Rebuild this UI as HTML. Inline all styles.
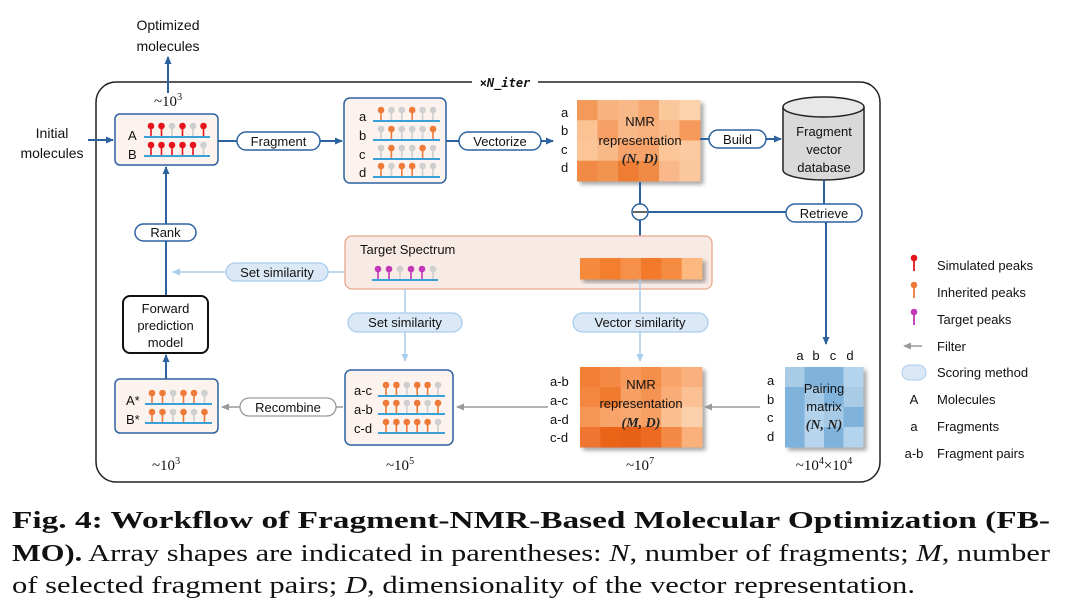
<!DOCTYPE html>
<html><head><meta charset="utf-8"><style>
html,body{margin:0;padding:0;background:#fff;}
svg{display:block;font-family:"Liberation Sans",sans-serif;}
.t{font-size:13px;fill:#111;}
.cap{font-family:"Liberation Serif",serif;font-size:24px;fill:#111;}
</style></head><body>
<svg id="s" width="1088" height="602" viewBox="0 0 1088 602" xmlns="http://www.w3.org/2000/svg">
<defs>
<marker id="ab" markerWidth="8" markerHeight="8" refX="7" refY="4" orient="auto" markerUnits="userSpaceOnUse"><path d="M0,0.5 L8,4 L0,7.5 Z" fill="#2c62a0"/></marker>
<marker id="ag" markerWidth="8" markerHeight="8" refX="7" refY="4" orient="auto" markerUnits="userSpaceOnUse"><path d="M0,0.5 L8,4 L0,7.5 Z" fill="#9a9a9a"/></marker>
<marker id="al" markerWidth="8" markerHeight="8" refX="7" refY="4" orient="auto" markerUnits="userSpaceOnUse"><path d="M0,0.5 L8,4 L0,7.5 Z" fill="#a9cdec"/></marker>
<filter id="sh" x="-10%" y="-10%" width="130%" height="130%"><feDropShadow dx="3" dy="3" stdDeviation="2" flood-color="#000" flood-opacity="0.35"/></filter>
</defs>

<!-- outer frame -->
<rect x="96" y="82" width="784" height="400" rx="20" fill="none" stroke="#222" stroke-width="1.5"/>
<rect x="472" y="74" width="66" height="16" fill="#fff"/>
<text x="505" y="87" text-anchor="middle" style="font-family:'DejaVu Sans Mono',monospace;font-size:12px;font-weight:bold;font-style:italic" fill="#111">×N_iter</text>

<!-- optimized molecules -->
<text class="t" x="168" y="30" text-anchor="middle" style="font-size:14px">Optimized</text>
<text class="t" x="168" y="51" text-anchor="middle" style="font-size:14px">molecules</text>
<line x1="168" y1="93" x2="168" y2="57" stroke="#2c62a0" stroke-width="2" marker-end="url(#ab)"/>
<text class="cap" x="168" y="106" text-anchor="middle" style="font-size:15px">~10<tspan dy="-6" font-size="10">3</tspan></text>

<!-- initial molecules -->
<text class="t" x="52" y="138" text-anchor="middle" style="font-size:14px">Initial</text>
<text class="t" x="52" y="158" text-anchor="middle" style="font-size:14px">molecules</text>
<line x1="88" y1="140" x2="113" y2="140" stroke="#2c62a0" stroke-width="2" marker-end="url(#ab)"/>

<!-- A/B box -->
<rect x="115" y="114" width="103" height="51" rx="5" fill="#fcf2ee" stroke="#2c62a0" stroke-width="1.5"/>
<text class="t" x="128" y="140">A</text><text class="t" x="128" y="159">B</text>

<!-- Fragment pill -->
<line x1="218" y1="141" x2="342" y2="141" stroke="#2c62a0" stroke-width="2" marker-end="url(#ab)"/>
<rect x="237" y="132" width="83" height="18" rx="9" fill="#fff" stroke="#2c62a0" stroke-width="1.5"/>
<text class="t" x="278.5" y="146" text-anchor="middle">Fragment</text>

<!-- fragment box -->
<rect x="344" y="98" width="102" height="85" rx="6" fill="#fcf2ee" stroke="#2c62a0" stroke-width="1.5"/>
<text class="t" x="359" y="121">a</text><text class="t" x="359" y="140">b</text><text class="t" x="359" y="159">c</text><text class="t" x="359" y="177">d</text>

<!-- Vectorize -->
<line x1="446" y1="141" x2="553" y2="141" stroke="#2c62a0" stroke-width="2" marker-end="url(#ab)"/>
<rect x="459" y="132" width="82" height="18" rx="9" fill="#fff" stroke="#2c62a0" stroke-width="1.5"/>
<text class="t" x="500" y="146" text-anchor="middle">Vectorize</text>
<text class="t" x="561" y="117">a</text><text class="t" x="561" y="135">b</text><text class="t" x="561" y="154">c</text><text class="t" x="561" y="172">d</text>

<!-- NMR top -->
<g id="h1" filter="url(#sh)"></g>
<text class="t" x="640" y="126" text-anchor="middle">NMR</text>
<text class="t" x="640" y="145" text-anchor="middle">representation</text>
<text x="640" y="163" text-anchor="middle" style="font-family:'Liberation Serif',serif;font-size:14px;font-style:italic;font-weight:bold" fill="#222">(N, D)</text>

<!-- Build -->
<line x1="700" y1="139" x2="781" y2="139" stroke="#2c62a0" stroke-width="2" marker-end="url(#ab)"/>
<rect x="709" y="130" width="57" height="18" rx="9" fill="#fff" stroke="#2c62a0" stroke-width="1.5"/>
<text class="t" x="737.5" y="144" text-anchor="middle">Build</text>

<!-- cylinder -->
<path d="M783,107 L783,170 A40.5,10 0 0 0 864,170 L864,107" fill="#d9d9d9" stroke="#222" stroke-width="1.5"/>
<ellipse cx="823.5" cy="107" rx="40.5" ry="10" fill="#e8e8e8" stroke="#222" stroke-width="1.5"/>
<text class="t" x="824" y="136" text-anchor="middle">Fragment</text>
<text class="t" x="824" y="154" text-anchor="middle">vector</text>
<text class="t" x="824" y="172" text-anchor="middle">database</text>

<!-- retrieve lines -->
<line x1="640" y1="182" x2="640" y2="258" stroke="#2c62a0" stroke-width="2"/>
<line x1="648" y1="212" x2="824" y2="212" stroke="#2c62a0" stroke-width="2"/>
<line x1="824" y1="180" x2="824" y2="204" stroke="#2c62a0" stroke-width="2"/>
<line x1="826" y1="221" x2="826" y2="344" stroke="#2c62a0" stroke-width="2" marker-end="url(#ab)"/>
<circle cx="640" cy="212" r="8" fill="#fff" stroke="#2c62a0" stroke-width="1.5"/>
<line x1="633" y1="212" x2="647" y2="212" stroke="#111" stroke-width="1.3"/>
<rect x="786" y="204" width="76" height="18" rx="9" fill="#fff" stroke="#2c62a0" stroke-width="1.5"/>
<text class="t" x="824" y="218" text-anchor="middle">Retrieve</text>

<!-- target spectrum -->
<rect x="345" y="236" width="367" height="53" rx="7" fill="#f8ebe5" stroke="#e8a88a" stroke-width="1.3"/>
<text class="t" x="360" y="254">Target Spectrum</text>
<line x1="372" y1="280" x2="438" y2="280" stroke="#3aa0d8" stroke-width="2"/>
<g id="h3" filter="url(#sh)"></g>

<!-- set similarity left -->
<line x1="345" y1="272" x2="173" y2="272" stroke="#a9cdec" stroke-width="1.5" marker-end="url(#al)"/>
<rect x="226" y="263" width="102" height="18" rx="9" fill="#dbe8f6" stroke="#a9cdec" stroke-width="1.3"/>
<text class="t" x="277" y="277" text-anchor="middle">Set similarity</text>

<!-- set similarity middle -->
<line x1="405" y1="289" x2="405" y2="361" stroke="#a9cdec" stroke-width="1.5" marker-end="url(#al)"/>
<rect x="348" y="313" width="114" height="19" rx="9.5" fill="#dbe8f6" stroke="#a9cdec" stroke-width="1.3"/>
<text class="t" x="405" y="327" text-anchor="middle">Set similarity</text>

<!-- vector similarity -->
<line x1="640" y1="279" x2="640" y2="361" stroke="#a9cdec" stroke-width="1.5" marker-end="url(#al)"/>
<rect x="573" y="313" width="135" height="19" rx="9.5" fill="#dbe8f6" stroke="#a9cdec" stroke-width="1.3"/>
<text class="t" x="640" y="327" text-anchor="middle">Vector similarity</text>

<!-- rank / forward -->
<line x1="166" y1="296" x2="166" y2="167" stroke="#2c62a0" stroke-width="2" marker-end="url(#ab)"/>
<rect x="135" y="224" width="61" height="17" rx="8.5" fill="#fff" stroke="#2c62a0" stroke-width="1.5"/>
<text class="t" x="165.5" y="237" text-anchor="middle">Rank</text>
<rect x="123" y="296" width="85" height="57" rx="7" fill="#fff" stroke="#111" stroke-width="2"/>
<text class="t" x="165.5" y="313" text-anchor="middle">Forward</text>
<text class="t" x="165.5" y="330" text-anchor="middle">prediction</text>
<text class="t" x="165.5" y="347" text-anchor="middle">model</text>
<line x1="166" y1="379" x2="166" y2="355" stroke="#2c62a0" stroke-width="2" marker-end="url(#ab)"/>

<!-- A*B* -->
<rect x="115" y="379" width="103" height="54" rx="5" fill="#fcf2ee" stroke="#2c62a0" stroke-width="1.5"/>
<text class="t" x="126" y="405">A*</text><text class="t" x="126" y="424">B*</text>

<!-- recombine -->
<line x1="343" y1="407" x2="222" y2="407" stroke="#9a9a9a" stroke-width="1.5" marker-end="url(#ag)"/>
<rect x="240" y="398" width="96" height="18" rx="9" fill="#fff" stroke="#9a9a9a" stroke-width="1.3"/>
<text class="t" x="288" y="412" text-anchor="middle">Recombine</text>

<!-- pair box -->
<rect x="345" y="370" width="108" height="75" rx="6" fill="#fcf2ee" stroke="#2c62a0" stroke-width="1.5"/>
<text class="t" x="354" y="395">a-c</text><text class="t" x="354" y="414">a-b</text><text class="t" x="354" y="433">c-d</text>

<!-- arrow NMR(M,D) to pair box -->
<line x1="548" y1="407" x2="457" y2="407" stroke="#9a9a9a" stroke-width="1.5" marker-end="url(#ag)"/>
<text class="t" x="550" y="386">a-b</text><text class="t" x="550" y="405">a-c</text><text class="t" x="550" y="424">a-d</text><text class="t" x="550" y="442">c-d</text>
<g id="h2" filter="url(#sh)"></g>
<text class="t" x="641" y="389" text-anchor="middle">NMR</text>
<text class="t" x="641" y="408" text-anchor="middle">representation</text>
<text x="641" y="427" text-anchor="middle" style="font-family:'Liberation Serif',serif;font-size:14px;font-style:italic;font-weight:bold" fill="#222">(M, D)</text>

<!-- pairing matrix -->
<line x1="760" y1="407" x2="705" y2="407" stroke="#9a9a9a" stroke-width="1.5" marker-end="url(#ag)"/>
<g id="h4" filter="url(#sh)"></g>
<text class="t" x="800" y="360" text-anchor="middle">a</text><text class="t" x="816" y="360" text-anchor="middle">b</text><text class="t" x="833" y="360" text-anchor="middle">c</text><text class="t" x="850" y="360" text-anchor="middle">d</text>
<text class="t" x="767" y="385">a</text><text class="t" x="767" y="404">b</text><text class="t" x="767" y="422">c</text><text class="t" x="767" y="441">d</text>
<text class="t" x="824" y="393" text-anchor="middle">Pairing</text>
<text class="t" x="824" y="411" text-anchor="middle">matrix</text>
<text x="824" y="429" text-anchor="middle" style="font-family:'Liberation Serif',serif;font-size:14px;font-style:italic;font-weight:bold" fill="#222">(N, N)</text>

<!-- counts -->
<text class="cap" x="166" y="470" text-anchor="middle" style="font-size:15px">~10<tspan dy="-6" font-size="10">3</tspan></text>
<text class="cap" x="400" y="470" text-anchor="middle" style="font-size:15px">~10<tspan dy="-6" font-size="10">5</tspan></text>
<text class="cap" x="640" y="470" text-anchor="middle" style="font-size:15px">~10<tspan dy="-6" font-size="10">7</tspan></text>
<text class="cap" x="824" y="470" text-anchor="middle" style="font-size:15px">~10<tspan dy="-6" font-size="10">4</tspan><tspan dy="6">×10</tspan><tspan dy="-6" font-size="10">4</tspan></text>

<!-- legend -->
<g id="leg"></g>
<text class="t" x="937" y="270">Simulated peaks</text>
<text class="t" x="937" y="297">Inherited peaks</text>
<text class="t" x="937" y="324">Target peaks</text>
<text class="t" x="937" y="351">Filter</text>
<text class="t" x="937" y="377">Scoring method</text>
<text class="t" x="937" y="404">Molecules</text>
<text class="t" x="937" y="431">Fragments</text>
<text class="t" x="937" y="458">Fragment pairs</text>
<line x1="922" y1="346" x2="904" y2="346" stroke="#9a9a9a" stroke-width="1.5" marker-end="url(#ag)"/>
<rect x="902" y="365" width="24" height="15" rx="7.5" fill="#dbe8f6" stroke="#a9cdec"/>
<text class="t" x="914" y="404" text-anchor="middle">A</text>
<text class="t" x="914" y="431" text-anchor="middle">a</text>
<text class="t" x="914" y="458" text-anchor="middle">a-b</text>

<!-- caption -->
<text class="cap" x="12" y="528" textLength="1038" lengthAdjust="spacingAndGlyphs" font-weight="bold">Fig. 4: Workflow of Fragment-NMR-Based Molecular Optimization (FB-</text>
<text class="cap" x="12" y="561" textLength="1038" lengthAdjust="spacingAndGlyphs"><tspan font-weight="bold">MO).</tspan> Array shapes are indicated in parentheses: <tspan font-style="italic">N</tspan>, number of fragments; <tspan font-style="italic">M</tspan>, number</text>
<text class="cap" x="12" y="593" textLength="903" lengthAdjust="spacingAndGlyphs">of selected fragment pairs; <tspan font-style="italic">D</tspan>, dimensionality of the vector representation.</text>
</svg>
<script>
var NS="http://www.w3.org/2000/svg",S=document.getElementById('s');
function el(t,a,p){var e=document.createElementNS(NS,t);for(var k in a)e.setAttribute(k,a[k]);(p||S).appendChild(e);return e;}
var C={R:'#e8141c',O:'#ee7a3a',G:'#cfcfcf',M:'#c236b8'};
function row(x0,x1,y,px,dx,pat){
  el('line',{x1:x0,y1:y,x2:x1,y2:y,stroke:'#3aa0d8','stroke-width':2});
  for(var i=0;i<pat.length;i++){var x=px+i*dx,c=C[pat[i]];
    el('line',{x1:x,y1:y-1,x2:x,y2:y-10,stroke:c,'stroke-width':1.6});
    el('circle',{cx:x,cy:y-11,r:3.3,fill:c});}
}
row(144,210,137,151,10.5,'RRGRGR');row(144,210,156,151,10.5,'RRRRRG');
row(373,440,121,381,10.4,'OGGOGG');row(373,440,140,381,10.4,'GOGGGO');
row(373,440,159,381,10.4,'GOGGOG');row(373,440,177,381,10.4,'OGOOGG');
row(145,212,404,152,10.5,'OOGOOG');row(145,212,423,152,10.5,'OOGOGO');
row(378,445,396,386,10.4,'OOGOOG');row(378,445,414,386,10.4,'OOGOGO');row(378,445,433,386,10.4,'OOOOOG');
row(372,438,280,378,11,'MMGMMG');
function heat(g,x,y,w,h,cols,rows,pal){g=document.getElementById(g);var cw=w/cols,ch=h/rows;
  for(var r=0;r<rows;r++)for(var c=0;c<cols;c++)el('rect',{x:x+c*cw,y:y+r*ch,width:cw+0.5,height:ch+0.5,fill:pal[r*cols+c]},g);}
heat('h1',577,100,123,81,6,4,['#f39a5a','#f8b27e','#f9b888','#f7a871','#fbc89c','#fcd2ab','#fbc393','#f6a066','#f9b887','#f8b07b','#f9b989','#f59a5c','#fbc597','#f9b888','#f7a46c','#f6a36a','#fbc597','#fcc9a0','#f08a44','#f29450','#ee7c33','#f08b45','#fab88a','#fbc89e']);
heat('h2',580,367,122,80,6,4,['#f37e34','#f48a44','#f6995a','#f58e4a','#f8a56b','#fab07c','#f48740','#f07a2e','#f7a064','#f59352','#f9ac76','#fbc093','#f69656','#f8a468','#f8a86e','#f7a064','#fbc092','#fcd0ab','#ef7430','#eb6418','#e85e12','#ec6a22','#f48a44','#f9b07a']);
heat('h3',580,258,122,21,6,1,['#f58a3c','#f37e2e','#f69048','#f27a2a','#f68c42','#fcb87e']);
heat('h4',785,367,78,80,4,4,['#a8cbe6','#7fb3dc','#7fb3dc','#b4d3ec','#7fb3dc','#a6c9e5','#80b4dc','#a9cbe6','#7fb3dc','#b3d2eb','#a6c9e5','#7fb3dc','#7fb3dc','#b7d4ec','#7fb3dc','#b4d3ec']);
[['R',270],['O',297],['M',324]].forEach(function(a){var c=C[a[0]],y=a[1]+1;
  el('line',{x1:914,y1:y,x2:914,y2:y-12,stroke:c,'stroke-width':1.8});el('circle',{cx:914,cy:y-13,r:3.3,fill:c});});
</script>
</body></html>
